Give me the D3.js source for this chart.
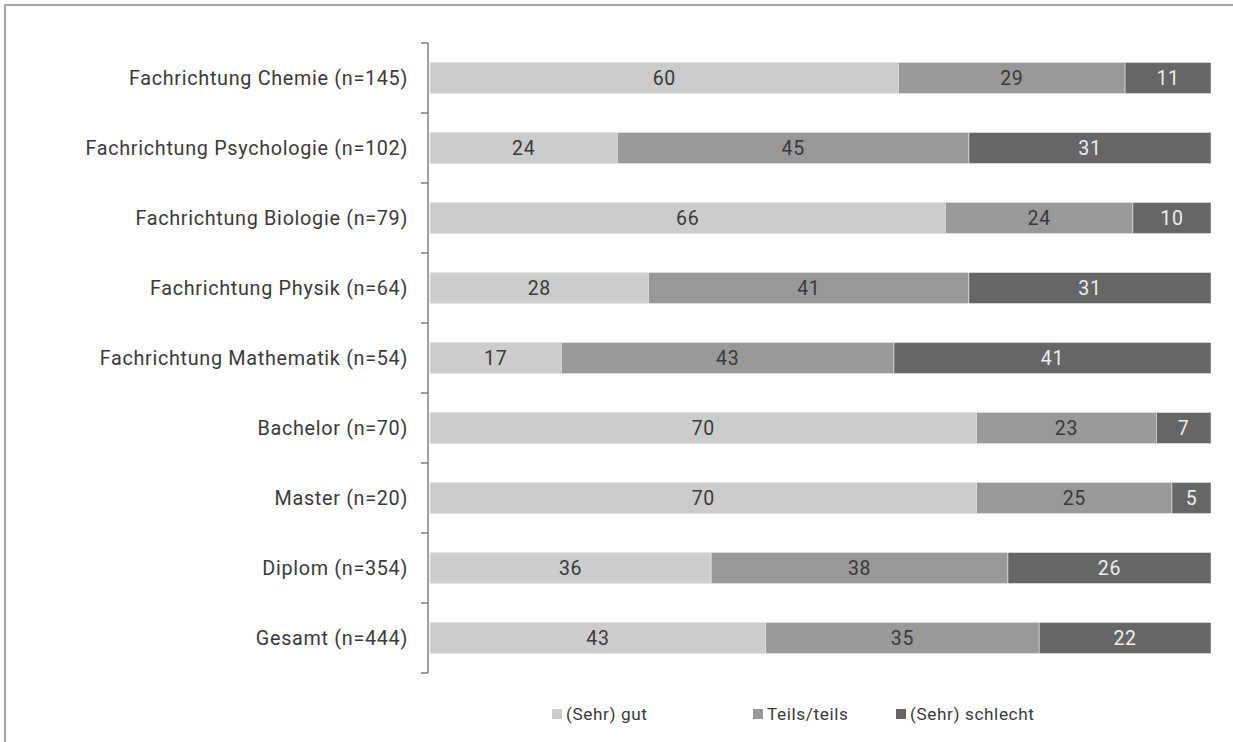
<!DOCTYPE html>
<html>
<head>
<meta charset="utf-8">
<script src="https://cdn.jsdelivr.net/npm/d3@7"></script>
<style>
  html, body { margin: 0; padding: 0; background: #fff; }
  svg { display: block; }
  text { font-family: Roboto, "Liberation Sans", sans-serif; letter-spacing: 0.035em; font-weight: 400; }
</style>
</head>
<body>
<svg id="chart" width="1233" height="742"></svg>
<script>
// Ratings by study group (percent)
const categories = [
  "Fachrichtung Chemie (n=145)",
  "Fachrichtung Psychologie (n=102)",
  "Fachrichtung Biologie (n=79)",
  "Fachrichtung Physik (n=64)",
  "Fachrichtung Mathematik (n=54)",
  "Bachelor (n=70)",
  "Master (n=20)",
  "Diplom (n=354)",
  "Gesamt (n=444)"
];
const seriesNames = ["(Sehr) gut", "Teils/teils", "(Sehr) schlecht"];
const gut      = [60, 24, 66, 28, 17, 70, 70, 36, 43];
const teils    = [29, 45, 24, 41, 43, 23, 25, 38, 35];
const schlecht = [11, 31, 10, 31, 41,  7,  5, 26, 22];
const colors = ["#cccccc", "#999999", "#666666"];
const labelColors = ["#3a3a3a", "#3a3a3a", "#ededed"];

const rows = categories.map((c, i) => ({
  cat: c,
  "(Sehr) gut": gut[i],
  "Teils/teils": teils[i],
  "(Sehr) schlecht": schlecht[i]
}));

const svg = d3.select("#chart");

// outer frame
svg.append("path")
  .attr("d", "M5,742 V5 H1233")
  .attr("fill", "none")
  .attr("stroke", "#a6a6a6")
  .attr("stroke-width", 2);

const x = d3.scaleLinear().domain([0, 1]).range([430, 1211]);
const y = d3.scaleBand().domain(categories).range([43, 673]).paddingInner(0.557).paddingOuter(0.2785);

const stack = d3.stack().keys(seriesNames).offset(d3.stackOffsetExpand);
const stacked = stack(rows);

const layers = svg.append("g").selectAll("g")
  .data(stacked)
  .join("g")
  .attr("fill", (d, i) => colors[i]);

layers.selectAll("rect")
  .data(d => d)
  .join("rect")
  .attr("x", d => x(d[0]))
  .attr("width", d => x(d[1]) - x(d[0]))
  .attr("y", d => y(d.data.cat))
  .attr("height", y.bandwidth())
  .attr("stroke", "#e6e6e6")
  .attr("stroke-width", 0.6);

layers.each(function(layer, li) {
  d3.select(this).selectAll("text")
    .data(layer)
    .join("text")
    .attr("x", d => (x(d[0]) + x(d[1])) / 2)
    .attr("y", d => y(d.data.cat) + y.bandwidth() / 2)
    .attr("dy", "0.36em")
    .attr("text-anchor", "middle")
    .attr("font-size", 19.5)
    .attr("fill", labelColors[li])
    .text(d => d.data[layer.key]);
});

// category axis with ticks between groups
const axisG = svg.append("g");
axisG.append("line")
  .attr("x1", 428).attr("x2", 428)
  .attr("y1", y.range()[0]).attr("y2", y.range()[1])
  .attr("stroke", "#7f7f7f").attr("stroke-width", 1.5);
const tickPos = d3.range(categories.length + 1).map(i => y.range()[0] + i * (y.range()[1] - y.range()[0]) / categories.length);
axisG.selectAll("line.tick")
  .data(tickPos)
  .join("line")
  .attr("class", "tick")
  .attr("x1", 421).attr("x2", 428)
  .attr("y1", d => d).attr("y2", d => d)
  .attr("stroke", "#7f7f7f").attr("stroke-width", 1.5);
axisG.selectAll("text")
  .data(categories)
  .join("text")
  .attr("x", 408)
  .attr("y", d => y(d) + y.bandwidth() / 2)
  .attr("dy", "0.36em")
  .attr("text-anchor", "end")
  .attr("font-size", 19.8)
  .attr("fill", "#3a3a3a")
  .text(d => d);

// legend
const legendX = [552, 753, 896];
const legend = svg.append("g").selectAll("g")
  .data(seriesNames)
  .join("g")
  .attr("transform", (d, i) => `translate(${legendX[i]},714)`);
legend.append("rect")
  .attr("x", 0).attr("y", -5).attr("width", 10).attr("height", 10)
  .attr("fill", (d, i) => colors[i]);
legend.append("text")
  .attr("x", 14).attr("y", 0).attr("dy", "0.36em")
  .attr("font-size", 17.2)
  .attr("fill", "#3a3a3a")
  .text(d => d);
</script>
</body>
</html>
